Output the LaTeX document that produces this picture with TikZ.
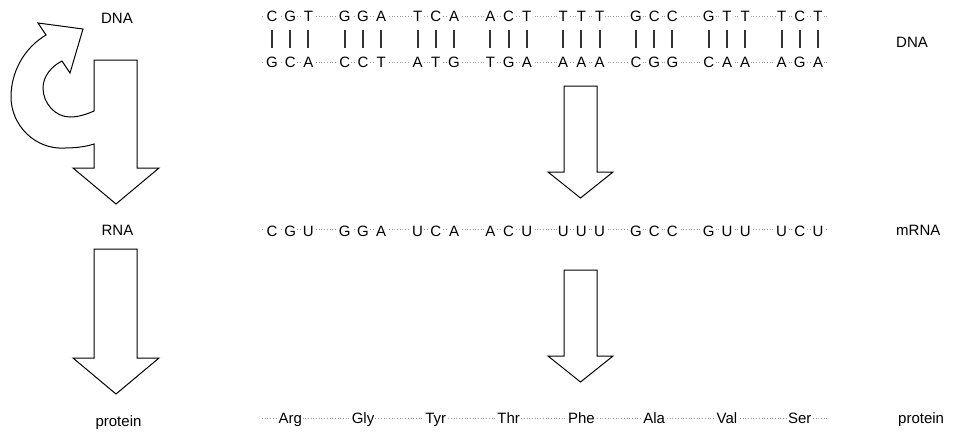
\documentclass[tikz,border=0pt]{standalone}
\usepackage{fontspec}
\setmainfont{Liberation Sans}
\begin{document}
\begin{tikzpicture}[x=1pt,y=-1pt,
  lbl/.style={font=\fontsize{15}{15}\selectfont, inner sep=0pt, anchor=base},
  base/.style={lbl, fill=white, inner xsep=1.2pt, inner ysep=0pt},
  seqline/.style={draw=gray!75, dotted, line width=0.7pt},
  pairbar/.style={line width=1.5pt, draw=black!80},
  blockarrow/.style={draw=black, line width=1pt, fill=white, line join=miter}]
\useasboundingbox (0,0) rectangle (958,432);

% --- strand backbones (dotted) ---
\coordinate (dnaTopL) at (262,16);   \coordinate (dnaTopR) at (827,16);
\coordinate (dnaBotL) at (262,62);   \coordinate (dnaBotR) at (827,62);
\coordinate (rnaL)    at (262,229.5);\coordinate (rnaR)    at (827,229.5);
\coordinate (proL)    at (262,418.5);\coordinate (proR)    at (827,418.5);
\draw[seqline] (dnaTopL) -- (dnaTopR);
\draw[seqline] (dnaBotL) -- (dnaBotR);
\draw[seqline] (rnaL) -- (rnaR);
\draw[seqline] (proL) -- (proR);

% --- codons ---
\foreach \ta/\tb/\tc/\ba/\bb/\bc/\ra/\rb/\rc/\aa [count=\i from 0] in {
  C/G/T/G/C/A/C/G/U/Arg,
  G/G/A/C/C/T/G/G/A/Gly,
  T/C/A/A/T/G/U/C/A/Tyr,
  A/C/T/T/G/A/A/C/U/Thr,
  T/T/T/A/A/A/U/U/U/Phe,
  G/C/C/C/G/G/G/C/C/Ala,
  G/T/T/C/A/A/G/U/U/Val,
  T/C/T/A/G/A/U/C/U/Ser}{
  \pgfmathsetmacro\gx{272+72.8*\i}
  \foreach \k/\t/\b/\r in {0/\ta/\ba/\ra, 1/\tb/\bb/\rb, 2/\tc/\bc/\rc}{
    \pgfmathsetmacro\lx{\gx+18.2*\k}
    \pgfmathsetmacro\bx{round(\lx)}
    \node[base] (top-\i-\k) at (\lx,21.5) {\t};
    \node[base] (bot-\i-\k) at (\lx,67) {\b};
    \node[base] (rna-\i-\k) at (\lx,236.5) {\r};
    \draw[pairbar] (\bx,30) -- (\bx,48);
  }
  \node[base] (aa-\i) at (\gx+18.2,423.5) {\aa};
}

% --- row labels ---
\node[lbl] (lDNA) at (117,23.3) {DNA};
\node[lbl] (lRNA) at (117.5,235.7) {RNA};
\node[lbl] (lPro) at (118.5,426) {protein};
\node[lbl, anchor=base west] (rDNA) at (896,47.5) {DNA};
\node[lbl, anchor=base west] (rRNA) at (896,235.7) {mRNA};
\node[lbl, anchor=base west] (rPro) at (898,423.5) {protein};

% --- replication loop with transcription arrow ---
\draw[blockarrow]
  (94,60) -- (137,60) -- (137,168) -- (159,168) -- (116,204) -- (73,168)
  -- (94,168) -- (94,144)
  .. controls (88,146) and (78,148) .. (65,148)
  .. controls (35,150) and (11,125) .. (11,97)
  .. controls (11,72) and (24,48) .. (46,35)
  -- (38,23) -- (83,29) -- (70,73) -- (62,61)
  .. controls (52,66) and (43,76) .. (43,88)
  .. controls (43,103) and (55,117) .. (70,117)
  .. controls (79,117) and (87,114) .. (94,111) -- cycle;

% --- translation arrow (left) ---
\draw[blockarrow]
  (94,249) -- (137,249) -- (137,358) -- (159,358) -- (116,394)
  -- (73,358) -- (94,358) -- cycle;

% --- DNA -> mRNA arrow ---
\draw[blockarrow]
  (564,86) -- (597,86) -- (597,172) -- (613,172) -- (580.5,198)
  -- (548,172) -- (564,172) -- cycle;

% --- mRNA -> protein arrow ---
\draw[blockarrow]
  (564,270) -- (597,270) -- (597,356) -- (613,356) -- (580.5,382)
  -- (548,356) -- (564,356) -- cycle;
\end{tikzpicture}
\end{document}
